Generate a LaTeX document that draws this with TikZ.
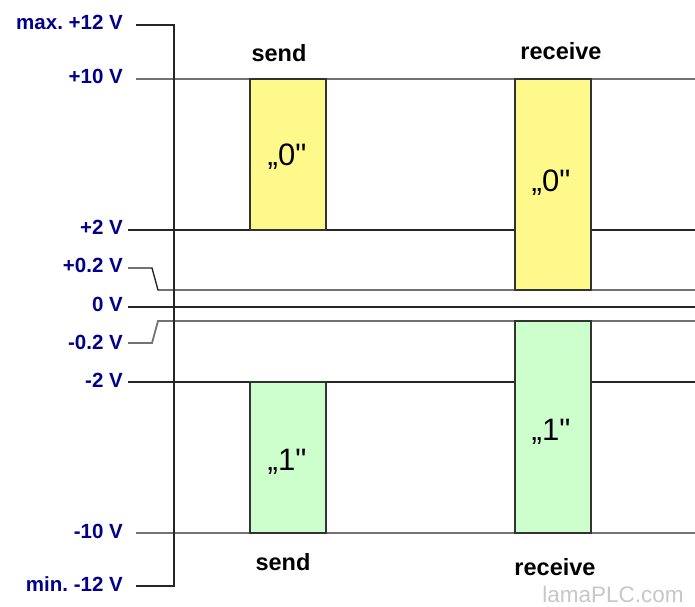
\documentclass[tikz,border=0pt]{standalone}
\usepackage{fontspec}
\setmainfont{Liberation Sans}
\newfontfamily\bitfont{Liberation Sans}[Ligatures=TeXOff]
\frenchspacing
\begin{document}
\begin{tikzpicture}[x=1pt,y=-1pt,
  lvl/.style={draw=black!85,line width=1.4pt},
  glvl/.style={draw=black!55,line width=1.8pt},
  axis/.style={draw=black!85,line width=1.3pt},
  vlab/.style={anchor=east,text=blue!55!black,font=\bfseries\fontsize{20.5}{22}\selectfont,inner sep=0pt},
  ylab/.style={font=\bfseries\fontsize{23.5}{26}\selectfont,inner sep=0pt},
  ybox/.style={draw=black!80,line width=1.3pt,fill=yellow!45},
  gbox/.style={draw=black!80,line width=1.3pt,fill=green!20},
  bit/.style={font=\bitfont\fontsize{31}{33}\selectfont,inner sep=0pt}]
\useasboundingbox (0,0) rectangle (695,606);
% level lines
\draw[glvl] (136,79) -- (695,79);
\draw[lvl] (128,230) -- (695,230);
\draw[lvl] (128,268) -- (152,268) -- (158,290) -- (695,290);
\draw[lvl] (128,307) -- (695,307);
\draw[glvl] (128,343) -- (152,343) -- (158,321) -- (695,321);
\draw[lvl] (128,382) -- (695,382);
\draw[glvl] (136,533) -- (695,533);
% axis
\coordinate (p12) at (136,25);
\coordinate (m12) at (136,586);
\coordinate (a12) at (174,25);
\coordinate (b12) at (174,586);
\draw[axis] (p12) -- (a12) -- (b12) -- (m12);
% boxes
\draw[ybox] (250,79) rectangle (326,230);
\draw[ybox] (515,79) rectangle (591,290);
\draw[gbox] (250,382) rectangle (326,533);
\draw[gbox] (515,321) rectangle (591,533);
% voltage labels
\node[vlab] (l1) at (123,22) {max. +12 V};
\node[vlab] (l2) at (123,76) {+10 V};
\node[vlab] (l3) at (123,227) {+2 V};
\node[vlab] (l4) at (123,265) {+0.2 V};
\node[vlab] (l5) at (123,304) {0 V};
\node[vlab] (l6) at (123,342) {-0.2 V};
\node[vlab] (l7) at (123,380) {-2 V};
\node[vlab] (l8) at (123,531) {-10 V};
\node[vlab] (l9) at (123,584) {min. -12 V};
% headings
\node[ylab] (s1) at (279,53) {send};
\node[ylab] (r1) at (561,51) {receive};
\node[ylab] (s2) at (283,562) {send};
\node[ylab] (r2) at (555,567) {receive};
% bits
\node[bit] (b1) at (287,157) {„0"};
\node[bit] (b2) at (551,183) {„0"};
\node[bit] (b3) at (287,462) {„1"};
\node[bit] (b4) at (551,432) {„1"};
% watermark
\node[text=black!22,font=\fontsize{22.5}{25}\selectfont,inner sep=0pt] (wm) at (613,594) {lamaPLC.com};
\end{tikzpicture}
\end{document}
